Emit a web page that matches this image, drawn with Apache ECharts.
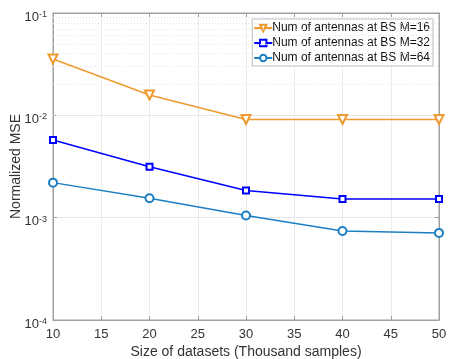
<!DOCTYPE html>
<html><head><meta charset="utf-8">
<script src="https://cdn.jsdelivr.net/npm/echarts@6/dist/echarts.min.js"></script>
<style>html,body{margin:0;padding:0;background:#fff}#c{width:449px;height:359px}</style>
</head><body><div id="c"></div>
<script>
const xValues = [10, 20, 30, 40, 50];
const seriesNames = ['Num of antennas at BS M=16', 'Num of antennas at BS M=32', 'Num of antennas at BS M=64'];
const mse16 = [0.0355, 0.0158, 0.0091, 0.0091, 0.0091];
const mse32 = [0.00575, 0.00315, 0.00184, 0.00152, 0.00152];
const mse64 = [0.00220, 0.00155, 0.00105, 0.00074, 0.00071];
const yMin = 1e-4, yMax = 1e-1;
const minorGridValues = [];
for (let e = -4; e < -1; e++) for (let k = 2; k <= 9; k++) minorGridValues.push(k * Math.pow(10, e));

const font = 'Liberation Sans, Arial, sans-serif';
const axisColor = '#a0a0a0';
const textColor = '#333';

const chart = echarts.init(document.getElementById('c'));
function pairs(arr){ return xValues.map((x,i)=>[x, arr[i]]); }
const colors = ['#EE9A2E', '#0000FF', '#1C7FC4'];
const symbols = ['emptyTriangle', 'emptyRect', 'emptyCircle'];
const symSizes = [9, 6, 8];
const rot = [180, 0, 0];
const data = [mse16, mse32, mse64];

const series = data.map((d, i) => ({
  name: seriesNames[i], type: 'line', data: pairs(d),
  symbol: symbols[i], symbolSize: symSizes[i], symbolRotate: rot[i],
  lineStyle: {color: colors[i], width: 1.5}, itemStyle: {color: colors[i], borderWidth: 1.3},
  z: 5
}));
series.push({
  type: 'line', data: [], silent: true,
  markLine: {silent: true, symbol: ['none','none'], label: {show: false},
    lineStyle: {color: '#e4e4e4', type: [1, 2], width: 1},
    data: minorGridValues.map(v => ({yAxis: v}))}
});

const yLabel = v => { const p = Math.round(Math.log10(v)); return '{b|10}{s|' + p + '}'; };

chart.setOption({
  animation: false,
  color: colors,
  grid: {left: 53, right: 10, top: 13, bottom: 39, outerBoundsMode: 'none', containLabel: false,
    show: true, borderColor: axisColor, borderWidth: 1},
  legend: {
    orient: 'vertical', right: 16, top: 19, data: seriesNames,
    backgroundColor: '#fff', borderColor: '#bdbdbd', borderWidth: 1,
    padding: [3, 3, 2, 1], itemGap: 3, itemWidth: 18, itemHeight: 8,
    textStyle: {fontFamily: font, fontSize: 12, color: '#111', padding: [0,0,0,-5]}
  },
  xAxis: [{
    type: 'value', min: 10, max: 50, interval: 5,
    name: 'Size of datasets (Thousand samples)', nameLocation: 'middle', nameGap: 25, nameMoveOverlap: false,
    nameTextStyle: {fontFamily: font, fontSize: 14, color: textColor},
    axisLine: {lineStyle: {color: axisColor}}, axisTick: {inside: true, length: 4, lineStyle: {color: axisColor}},
    axisLabel: {fontFamily: font, fontSize: 13, color: textColor, margin: 8},
    splitLine: {show: true, lineStyle: {color: '#ebebeb'}}
  }, {
    type: 'value', min: 10, max: 50, interval: 5, position: 'top',
    axisLine: {show: true, lineStyle: {color: axisColor}}, axisTick: {inside: true, length: 4, lineStyle: {color: axisColor}},
    axisLabel: {show: false}, splitLine: {show: false}
  }],
  yAxis: [{
    type: 'log', logBase: 10, min: yMin, max: yMax,
    name: 'Normalized MSE', nameLocation: 'middle', nameGap: 30, nameMoveOverlap: false,
    nameTextStyle: {fontFamily: font, fontSize: 14, color: textColor},
    axisLine: {lineStyle: {color: axisColor}}, axisTick: {inside: true, length: 4, lineStyle: {color: axisColor}},
    axisLabel: {formatter: yLabel, margin: 6, padding: [8, 0, 0, 0], rich: {
      b: {fontFamily: font, fontSize: 13, color: textColor},
      s: {fontFamily: font, fontSize: 9, color: textColor, verticalAlign: 'bottom', padding: [0, 0, 5, 0]}
    }},
    splitLine: {show: true, lineStyle: {color: '#e6e6e6'}}
  }, {
    type: 'log', logBase: 10, min: yMin, max: yMax, position: 'right',
    axisLine: {show: true, lineStyle: {color: axisColor}}, axisTick: {inside: true, length: 4, lineStyle: {color: axisColor}},
    axisLabel: {show: false}, splitLine: {show: false}
  }],
  series: series
});
</script></body></html>
